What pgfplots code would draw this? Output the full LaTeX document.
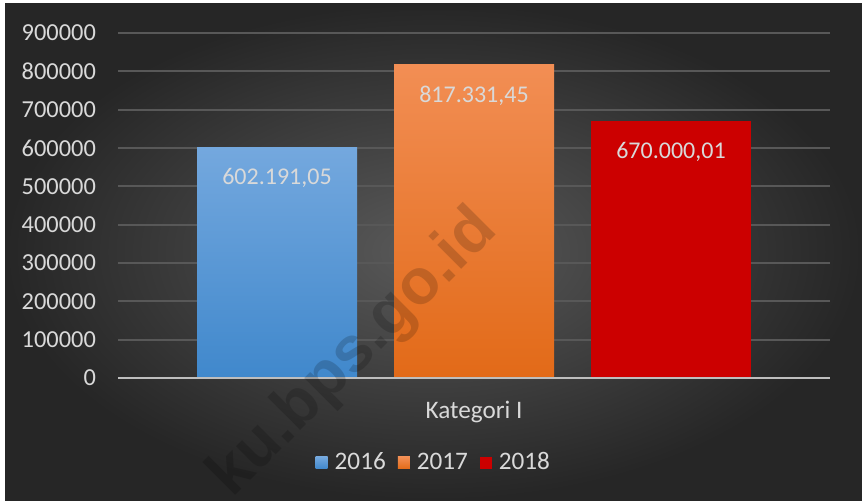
\documentclass[border=0pt]{standalone}
\usepackage{pgfplots}
\pgfplotsset{compat=1.18}
\usepackage{fontspec}
\setmainfont{Carlito}
\newfontfamily\wmfont{Liberation Sans}
\definecolor{bgc}{RGB}{38,38,38}
\definecolor{bgl}{RGB}{90,90,90}
\definecolor{txt}{RGB}{217,217,217}
\definecolor{gridc}{RGB}{88,88,88}
\definecolor{axc}{RGB}{190,190,190}
\definecolor{blueT}{RGB}{116,168,222}
\definecolor{blueB}{RGB}{64,136,204}
\definecolor{orT}{RGB}{242,142,84}
\definecolor{orB}{RGB}{226,106,24}
\definecolor{redc}{RGB}{204,0,0}
\begin{document}
\begin{tikzpicture}[x=1pt,y=1pt]
\path[use as bounding box] (0,0) rectangle (431,250);
\fill[white] (0,0) rectangle (431,250);
\shade[inner color=bgl, outer color=bgc] (2.5,0) rectangle (431,248.5);
\begin{axis}[
  name=ax,
  at={(59pt,61pt)}, anchor=south west,
  scale only axis, width=356pt, height=172.5pt,
  xmin=-1, xmax=1, ymin=0, ymax=900000,
  ytick={0,100000,200000,300000,400000,500000,600000,700000,800000,900000},
  scaled y ticks=false,
  /pgf/number format/fixed, /pgf/number format/1000 sep={}, /pgf/number format/assume math mode=true,
  yticklabel style={font=\fontsize{12.2}{15}\selectfont, text=txt, xshift=-7.5pt},
  xtick=\empty,
  axis line style={draw=none},
  tick style={draw=none},
  ymajorgrids, grid style={gridc, line width=1pt},
  ybar=18.5pt, bar width=80pt,
  every node near coord/.append style={anchor=north, yshift=-7pt, font=\fontsize{12}{14}\selectfont, text=txt},
  legend style={at={(0.445,-0.246)}, anchor=center, draw=none, fill=none, text=txt,
    font=\fontsize{12.6}{15}\selectfont, /tikz/every even column/.append style={column sep=4pt}},
  legend columns=-1,
  legend image code/.code={\fill[#1] (0pt,-3pt) rectangle (6pt,3pt); \path (7.5pt,0pt);},
]
\addplot[draw=none, top color=blueT, bottom color=blueB, nodes near coords={602.191,05}] coordinates {(0,602191.05)};
\addplot[draw=none, top color=orT, bottom color=orB, nodes near coords={817.331,45}] coordinates {(0,817331.45)};
\addplot[draw=none, fill=redc, nodes near coords={670.000,01}] coordinates {(0,670000.01)};
\legend{2016,2017,2018}
\draw[axc, line width=1pt] (rel axis cs:0,0) -- (rel axis cs:1,0);
\end{axis}
\node[anchor=center, text=txt, font=\fontsize{12.6}{15}\selectfont] at ([yshift=-17pt]ax.south) {Kategori I};
\begin{scope}
\clip (2.5,0) rectangle (431,248.5);
\node[rotate=45, font=\wmfont\bfseries\fontsize{32}{36}\selectfont, text=black, opacity=0.17] at (177,73) {ku.bps.go.id};
\end{scope}
\end{tikzpicture}
\end{document}
